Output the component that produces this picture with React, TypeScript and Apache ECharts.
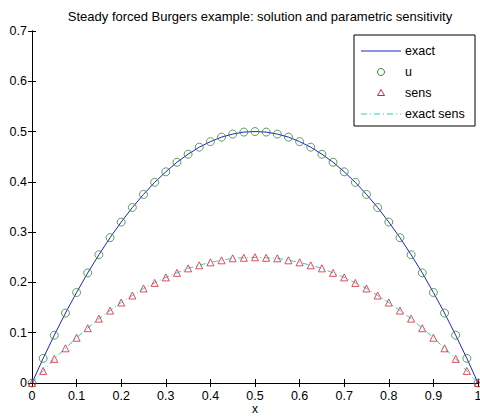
import React, { useEffect, useRef } from "react";
import * as echarts from "echarts";

const xs = [0, 0.025, 0.05, 0.075, 0.1, 0.125, 0.15, 0.175, 0.2, 0.225, 0.25, 0.275, 0.3, 0.325, 0.35, 0.375, 0.4, 0.425, 0.45, 0.475, 0.5,
  0.525, 0.55, 0.575, 0.6, 0.625, 0.65, 0.675, 0.7, 0.725, 0.75, 0.775, 0.8, 0.825, 0.85, 0.875, 0.9, 0.925, 0.95, 0.975, 1];
const uVals = [0, 0.049, 0.095, 0.139, 0.18, 0.219, 0.255, 0.289, 0.32, 0.349, 0.375, 0.399, 0.42, 0.439, 0.455, 0.469, 0.48, 0.489, 0.495, 0.499, 0.5,
  0.499, 0.495, 0.489, 0.48, 0.469, 0.455, 0.439, 0.42, 0.399, 0.375, 0.349, 0.32, 0.289, 0.255, 0.219, 0.18, 0.139, 0.095, 0.049, 0];
const sensVals = [0, 0.024, 0.048, 0.069, 0.09, 0.109, 0.128, 0.144, 0.16, 0.174, 0.188, 0.199, 0.21, 0.219, 0.228, 0.234, 0.24, 0.244, 0.248, 0.249, 0.25,
  0.249, 0.248, 0.244, 0.24, 0.234, 0.228, 0.219, 0.21, 0.199, 0.188, 0.174, 0.16, 0.144, 0.128, 0.109, 0.09, 0.069, 0.048, 0.024, 0];
const xTicks = ["0", "0.1", "0.2", "0.3", "0.4", "0.5", "0.6", "0.7", "0.8", "0.9", "1"];
const yTicks = ["0", "0.1", "0.2", "0.3", "0.4", "0.5", "0.6", "0.7"];
const legendNames = ["exact", "u", "sens", "exact sens"];
const xName = "x";

const FONT = "Liberation Sans, Arial, sans-serif";
const FS = 12.5;

export default function App() {
  const ref = useRef<HTMLDivElement>(null);
  useEffect(() => {
    if (!ref.current) return;
    const chart = echarts.init(ref.current, null, { renderer: "svg" });
    const pair = (ys: number[]) => xs.map((x, i) => [x, ys[i]]);
    const tickStyle = { show: true, inside: true, length: 4, lineStyle: { color: "#000" } };
    const lineStyle = { show: true, lineStyle: { color: "#000", width: 1 } };
    const lx = 354, ly = 35;
    const rowY = [51, 72, 93, 114];
    chart.setOption({
      animation: false,
      backgroundColor: "#fff",
      title: {
        text: "Steady forced Burgers example: solution and parametric sensitivity",
        left: 255, top: 5, textAlign: "center",
        textStyle: { fontFamily: FONT, fontSize: 13, fontWeight: "normal", color: "#000" },
      },
      grid: { left: 32, right: 2, top: 31, bottom: 34, show: false, containLabel: false, outerBoundsMode: "none" },
      xAxis: [
        {
          type: "value", min: 0, max: 1, interval: 0.1, position: "bottom",
          axisLine: lineStyle, axisTick: tickStyle, splitLine: { show: false },
          axisLabel: { fontFamily: FONT, fontSize: FS, color: "#000", margin: 6,
            formatter: (v: number) => xTicks[Math.round(v * 10)] },
        },
        {
          type: "value", min: 0, max: 1, interval: 0.1, position: "top",
          axisLine: lineStyle, axisTick: tickStyle, splitLine: { show: false }, axisLabel: { show: false },
        },
      ],
      yAxis: [
        {
          type: "value", min: 0, max: 0.7, interval: 0.1, position: "left",
          axisLine: lineStyle, axisTick: tickStyle, splitLine: { show: false },
          axisLabel: { fontFamily: FONT, fontSize: FS, color: "#000", margin: 5,
            formatter: (v: number) => yTicks[Math.round(v * 10)] },
        },
        {
          type: "value", min: 0, max: 0.7, interval: 0.1, position: "right",
          axisLine: lineStyle, axisTick: tickStyle, splitLine: { show: false }, axisLabel: { show: false },
        },
      ],
      series: [
        {
          name: legendNames[3], type: "line", data: pair(sensVals), showSymbol: false, symbol: "none",
          lineStyle: { color: "#33cccc", width: 1, type: [6, 3, 1, 3] }, z: 2,
        },
        {
          name: legendNames[0], type: "line", data: pair(uVals), showSymbol: false, symbol: "none",
          lineStyle: { color: "#2222cc", width: 1 }, z: 2,
        },
        {
          name: legendNames[1], type: "scatter", data: pair(uVals), symbol: "circle", symbolSize: 8,
          itemStyle: { color: "rgba(0,0,0,0)", borderColor: "#338833", borderWidth: 1 }, z: 3,
        },
        {
          name: legendNames[2], type: "scatter", data: pair(sensVals), symbol: "triangle", symbolSize: 7,
          itemStyle: { color: "rgba(0,0,0,0)", borderColor: "#dd2233", borderWidth: 1 }, z: 3,
        },
      ],
      graphic: [
        { type: "text", x: 255, y: 409, style: { text: xName, fontFamily: FONT, fontSize: 12, fill: "#000", textAlign: "center", textVerticalAlign: "middle" } },
        { type: "rect", shape: { x: lx, y: ly, width: 121, height: 91 }, style: { fill: "#fff", stroke: "#000", lineWidth: 1 }, z: 10 },
        { type: "line", shape: { x1: 361, y1: rowY[0], x2: 401, y2: rowY[0] }, style: { stroke: "#2222cc", lineWidth: 1 }, z: 11 },
        { type: "circle", shape: { cx: 381, cy: rowY[1], r: 3.5 }, style: { fill: "#fff", stroke: "#338833", lineWidth: 1 }, z: 11 },
        { type: "polygon", shape: { points: [[381, rowY[2] - 3.5], [384.5, rowY[2] + 2.5], [377.5, rowY[2] + 2.5]] }, style: { fill: "#fff", stroke: "#dd2233", lineWidth: 1 }, z: 11 },
        { type: "line", shape: { x1: 361, y1: rowY[3], x2: 401, y2: rowY[3] }, style: { stroke: "#33cccc", lineWidth: 1, lineDash: [6, 3, 1, 3] }, z: 11 },
        ...legendNames.map((n, i) => ({
          type: "text", x: 405, y: rowY[i], z: 11,
          style: { text: n, fontFamily: FONT, fontSize: FS, fill: "#000", textVerticalAlign: "middle" },
        })),
      ],
    });
    return () => chart.dispose();
  }, []);
  return <div ref={ref} style={{ width: 480, height: 417, position: "absolute", left: 0, top: 0 }} />;
}
